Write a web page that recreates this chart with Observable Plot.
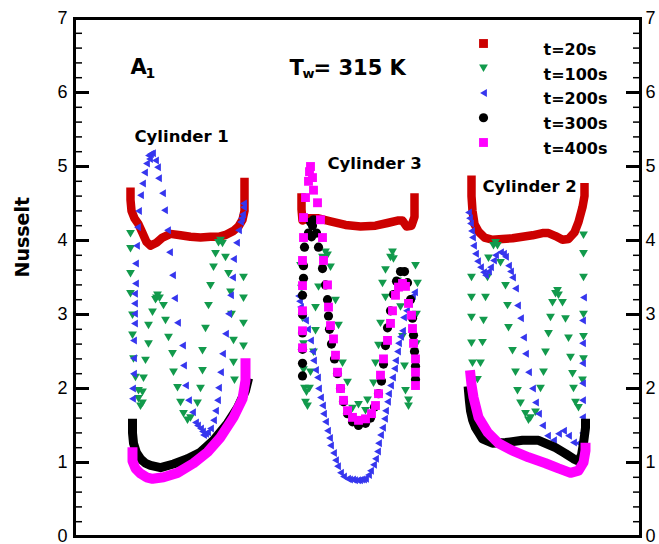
<!DOCTYPE html>
<html><head><meta charset="utf-8">
<script src="https://cdn.jsdelivr.net/npm/d3@7"></script>
<script src="https://cdn.jsdelivr.net/npm/@observablehq/plot@0.6"></script>
<style>body{margin:0;background:#fff}#chart{width:659px;height:544px}</style>
</head><body><div id="chart"></div>
<script>
// ---------- data ----------
const seriesNames = ["t=20s", "t=100s", "t=200s", "t=300s", "t=400s"];
const cylinderNames = ["Cylinder 1", "Cylinder 3", "Cylinder 2"];
const cylinderStart = [0, 171, 341];           // where each cylinder's surface curve begins along x
const yTicks = [0, 1, 2, 3, 4, 5, 6, 7];
const yMinorTicks = [0.2,0.4,0.6,0.8,1.2,1.4,1.6,1.8,2.2,2.4,2.6,2.8,3.2,3.4,3.6,3.8,4.2,4.4,4.6,4.8,5.2,5.4,5.6,5.8,6.2,6.4,6.6,6.8];

// [position along cylinder surface, Nusselt]
const t20_c1 = [[3,4.66],[3,4.55],[4,4.40],[7,4.30],[11,4.22],[15,4.10],[19,3.98],[23,3.93],[29,3.97],[35,4.04],[43,4.09],[53,4.07],[63,4.05],[73,4.04],[83,4.05],[91,4.05],[99,4.08],[106,4.13],[111,4.19],[115,4.28],[117,4.40],[117,4.60],[117,4.79]];
const t20_c3 = [[3,4.58],[3,4.42],[4,4.27],[10,4.30],[20,4.30],[32,4.26],[47,4.21],[62,4.19],[77,4.20],[90,4.24],[99,4.27],[104,4.27],[108,4.19],[113,4.20],[116,4.32],[116,4.58]];
const t20_c2 = [[3,4.82],[3,4.60],[4,4.40],[6,4.22],[10,4.12],[16,4.04],[24,4.01],[34,4.02],[44,4.03],[54,4.05],[64,4.07],[74,4.10],[80,4.10],[87,4.06],[94,4.01],[100,4.02],[106,4.11],[110,4.25],[114,4.45],[116,4.60],[116,4.72]];

const t100_c1 = [[3,4.09],[3,3.89],[3,3.55],[3,3.28],[5,2.99],[5,2.72],[6,2.40],[8,2.15],[11,1.97],[11,1.86],[13,1.76],[15,1.80],[15,1.95],[16,2.14],[18,2.38],[21,2.60],[21,2.85],[25,3.03],[28,3.20],[30,3.26],[29,3.22],[32,3.22],[36,3.12],[38,2.92],[41,2.69],[45,2.47],[46,2.22],[50,2.01],[53,1.81],[56,1.66],[60,1.57],[63,1.60],[70,1.80],[73,2.00],[75,2.24],[75,2.51],[78,2.81],[81,3.12],[83,3.39],[86,3.64],[88,3.82],[91,3.97],[93,4.00],[95,3.96],[98,3.77],[101,3.55],[103,3.30],[104,3.00],[106,2.65],[106,2.35],[107,2.11],[116,2.57],[116,2.88],[116,3.22],[116,3.50]];
const t100_c3 = [[2,3.66],[3,3.35],[4,2.95],[5,2.60],[5,2.25],[6,2.00],[7,1.81],[9,1.76],[8,1.95],[11,2.00],[12,2.22],[15,2.49],[17,2.78],[17,3.09],[20,3.37],[24,3.77],[27,3.84],[29,3.80],[32,3.64],[37,3.19],[40,2.85],[44,2.34],[49,2.08],[54,1.73],[60,1.78],[67,1.70],[69,1.84],[75,2.07],[77,2.34],[80,2.58],[82,2.88],[87,3.23],[84,3.42],[87,3.60],[92,3.77],[94,3.84],[95,3.75],[99,3.45],[102,3.10],[104,2.70],[106,2.30],[107,1.97],[110,1.84],[110,1.76],[117,3.66],[119,3.42],[118,3.00],[118,2.60]];
const t100_c2 = [[3,3.50],[3,3.23],[3,2.96],[3,2.61],[4,2.34],[9,2.12],[12,2.34],[14,2.62],[15,2.92],[17,3.23],[19,3.50],[20,3.76],[25,3.93],[27,3.97],[29,3.93],[32,3.70],[37,3.39],[39,3.12],[40,2.82],[44,2.51],[47,2.22],[49,1.97],[52,1.80],[57,1.66],[60,1.57],[62,1.60],[67,1.68],[72,2.00],[75,2.22],[77,2.49],[80,2.74],[82,2.96],[84,3.16],[87,3.28],[89,3.32],[90,3.26],[94,3.16],[97,2.94],[100,2.68],[102,2.42],[104,2.20],[105,2.00],[107,1.81],[110,1.74],[114,2.11],[115,2.40],[115,2.70],[115,3.00],[115,3.50],[115,3.82],[115,4.07]];

const t200_c1 = [[5,1.86],[5,2.00],[6,2.20],[6,2.41],[6,2.65],[7,2.88],[7,3.01],[7,3.15],[7,3.28],[8,3.42],[8,3.69],[9,3.93],[10,4.18],[11,4.40],[13,4.61],[15,4.77],[17,4.92],[19,5.04],[21,5.15],[22,5.10],[23,5.17],[25,5.18],[28,5.08],[30,4.99],[31,4.84],[35,4.64],[37,4.41],[40,4.14],[42,3.84],[45,3.53],[47,3.22],[50,2.89],[55,2.58],[56,2.31],[58,2.04],[61,1.84],[65,1.68],[68,1.54],[70,1.50],[73,1.46],[75,1.42],[76,1.37],[78,1.39],[80,1.41],[83,1.46],[86,1.57],[88,1.70],[90,1.84],[91,2.01],[93,2.22],[95,2.47],[98,2.74],[101,3.01],[103,3.26],[105,3.50],[106,3.75],[109,3.97],[111,4.14],[113,4.25],[115,4.35],[116,4.45],[116,4.50],[114,4.30]];
const t200_c3 = [[0,3.25],[1,3.18],[2,3.10],[5,2.98],[7,2.92],[9,2.80],[12,2.65],[14,2.50],[15,2.38],[17,2.25],[19,2.15],[20,2.00],[22,1.88],[24,1.77],[25,1.66],[27,1.55],[29,1.43],[31,1.33],[32,1.23],[35,1.13],[37,1.03],[39,0.95],[42,0.86],[45,0.81],[49,0.78],[51,0.77],[54,0.77],[56,0.76],[59,0.76],[61,0.76],[63,0.77],[65,0.77],[67,0.78],[70,0.83],[72,0.89],[75,0.97],[77,1.05],[79,1.15],[80,1.26],[82,1.37],[84,1.47],[86,1.59],[87,1.70],[89,1.82],[90,1.93],[92,2.04],[94,2.15],[96,2.27],[97,2.38],[99,2.50],[100,2.61],[102,2.70],[104,2.78],[105,2.96],[108,3.05],[111,3.15],[114,3.25],[116,3.30]];
const t200_c2 = [[0,4.38],[1,4.30],[2,4.23],[3,4.13],[4,4.04],[5,3.93],[7,3.82],[9,3.72],[12,3.64],[15,3.57],[17,3.53],[20,3.58],[22,3.64],[25,3.73],[27,3.80],[32,3.84],[35,3.82],[37,3.78],[40,3.66],[42,3.58],[44,3.50],[47,3.35],[49,3.12],[52,2.95],[55,2.69],[57,2.47],[60,2.22],[64,2.00],[67,1.81],[70,1.66],[74,1.50],[79,1.36],[85,1.30],[90,1.39],[95,1.43],[100,1.36],[105,1.27],[110,1.26],[114,1.40],[114,1.61],[114,1.84],[114,2.07],[114,2.34],[114,2.61],[114,2.92],[115,3.23]];

const t300_c1 = [[5,1.53],[5,1.40],[6,1.26],[9,1.13],[13,1.05],[18,0.99],[23,0.96],[33,0.93],[46,0.98],[60,1.05],[73,1.14],[86,1.30],[100,1.53],[110,1.74],[118,1.97],[120,2.08]];
const t300_c3 = [[4,2.17],[4,2.34],[4,2.53],[4,2.75],[4,3.00],[4,3.26],[5,3.49],[5,3.66],[6,3.91],[10,4.10],[12,4.25],[14,4.20],[15,4.28],[13,4.05],[18,4.10],[20,3.91],[24,3.62],[27,3.40],[29,3.20],[30,2.98],[31,2.80],[33,2.60],[36,2.40],[39,2.20],[42,2.00],[45,1.82],[49,1.66],[54,1.55],[60,1.50],[67,1.53],[72,1.60],[76,1.75],[80,1.93],[83,2.10],[85,2.33],[87,2.58],[89,2.82],[92,3.05],[95,3.27],[98,3.45],[102,3.58],[106,3.58],[109,3.43],[112,3.20],[114,2.95],[115,2.72],[116,2.50],[117,2.30],[117,2.12]];
const t300_c2 = [[0,1.97],[1,1.82],[2,1.70],[4,1.58],[7,1.47],[14,1.32],[24,1.26],[37,1.27],[54,1.30],[70,1.30],[87,1.20],[97,1.12],[105,1.05],[110,1.02],[113,1.10],[115,1.26],[117,1.47],[117,1.53]];

const t400_c1 = [[5,1.14],[5,1.02],[8,0.92],[13,0.85],[19,0.80],[25,0.78],[36,0.80],[50,0.86],[66,0.99],[80,1.14],[93,1.34],[106,1.61],[115,1.86],[118,2.11],[118,2.34]];
const t400_c3 = [[4,2.55],[4,2.78],[4,3.05],[4,3.39],[4,3.73],[5,4.04],[5,4.31],[7,4.58],[10,4.80],[11,4.93],[12,5.00],[14,4.85],[15,4.68],[19,4.51],[22,4.28],[24,4.04],[25,3.73],[29,3.40],[30,3.10],[32,2.85],[35,2.67],[37,2.45],[39,2.22],[42,2.00],[45,1.84],[49,1.70],[54,1.61],[60,1.57],[67,1.59],[73,1.66],[77,1.77],[80,1.93],[82,2.18],[85,2.40],[89,2.65],[92,2.88],[94,3.05],[97,3.26],[100,3.37],[104,3.42],[107,3.38],[110,3.15],[113,2.99],[114,2.81],[115,2.61],[117,2.40],[117,2.22],[117,2.04]];
const t400_c2 = [[2,2.18],[3,2.05],[5,1.88],[10,1.61],[19,1.41],[30,1.26],[44,1.16],[60,1.07],[77,0.99],[90,0.92],[102,0.86],[110,0.89],[115,1.00],[117,1.16],[117,1.20]];

// ---------- build table ----------
const byTime = [[t20_c1,t20_c3,t20_c2],[t100_c1,t100_c3,t100_c2],[t200_c1,t200_c3,t200_c2],[t300_c1,t300_c3,t300_c2],[t400_c1,t400_c3,t400_c2]];
const rows = [];
byTime.forEach((cyls, si) => cyls.forEach((pts, ci) => pts.forEach(([u, nu], k) =>
  rows.push({series: seriesNames[si], cyl: cylinderNames[ci], x: cylinderStart[ci] + u, nu, k}))));
const pick = (s, cyls) => rows.filter(d => d.series === s && (!cyls || cyls.includes(d.cyl)));

// ---------- styles ----------
const xDomain = [-53, 513];
const colors = ["#cc0000", "#129a4c", "#3636ee", "#000000", "#ff00ff"];
const triDown = {draw(ctx, size) { const r = Math.sqrt(size / Math.PI); ctx.moveTo(-r, -0.85*r); ctx.lineTo(r, -0.85*r); ctx.lineTo(0, 0.85*r); ctx.closePath(); }};
const triLeft = {draw(ctx, size) { const r = Math.sqrt(size / Math.PI); ctx.moveTo(-0.85*r, 0); ctx.lineTo(0.85*r, -r); ctx.lineTo(0.85*r, r); ctx.closePath(); }};
const symbols = ["square", triDown, triLeft, "circle", "square"];
const radii = [5.0, 4.4, 4.0, 4.6, 5.0];
const dense = ["Cylinder 1", "Cylinder 2"];
const sparse = ["Cylinder 3"];

const lineOpts = (color, w) => ({x: "x", y: "nu", z: "cyl", stroke: color, strokeWidth: w, strokeLinecap: "square", strokeLinejoin: "round"});
const dotOpts = (i) => ({x: "x", y: "nu", symbol: symbols[i], r: radii[i], fill: colors[i]});
const tickColor = "black";
const inwardTicks = (ticks, anchor, len, w) =>
  Plot.axisY({anchor, ticks, tickSize: -len, strokeWidth: w, stroke: tickColor, tickFormat: () => "", label: null});

const legendMarks = seriesNames.flatMap((name, i) => [
  Plot.dot([name], {frameAnchor: "top-left", dx: 409, dy: 25 + i * 24.75, symbol: symbols[i], r: radii[i], fill: colors[i]}),
  Plot.text([name], {text: d => d, frameAnchor: "top-left", dx: 469, dy: 25 + i * 24.75, textAnchor: "start", fontSize: 16, fontWeight: "bold"})
]);

const cylLabelPos = [[60, 111.7], [253, 138.7], [408, 161.7]];
const cylLabels = cylinderNames.map((name, i) =>
  Plot.text([name], {text: d => d, frameAnchor: "top-left", dx: cylLabelPos[i][0], dy: cylLabelPos[i][1], textAnchor: "start", fontSize: 16.5, fontWeight: "bold"}));

const chart = Plot.plot({
  width: 659, height: 544,
  marginLeft: 74, marginRight: 19, marginTop: 18, marginBottom: 8,
  x: {domain: xDomain, axis: null},
  y: {domain: [0, 7], axis: null},
  style: {fontFamily: "DejaVu Sans", background: "white"},
  marks: [
    Plot.line(pick("t=20s"), lineOpts(colors[0], 8.5)),
    Plot.dot(pick("t=100s"), dotOpts(1)),
    Plot.dot(pick("t=200s"), dotOpts(2)),
    Plot.line(pick("t=300s", dense), lineOpts(colors[3], 9)),
    Plot.dot(pick("t=300s", sparse), dotOpts(3)),
    Plot.line(pick("t=400s", dense), lineOpts(colors[4], 10)),
    Plot.dot(pick("t=400s", sparse), dotOpts(4)),
    inwardTicks(yTicks, "left", 15, 3),
    inwardTicks(yMinorTicks, "left", 8, 1.5),
    inwardTicks(yTicks, "right", 15, 3),
    inwardTicks(yMinorTicks, "right", 8, 1.5),
    Plot.text(yTicks, {y: d => d, text: d => String(d), frameAnchor: "left", dx: -7, textAnchor: "end", fontFamily: "Liberation Sans", fontSize: 18}),
    Plot.text(yTicks, {y: d => d, text: d => String(d), frameAnchor: "right", dx: 5, textAnchor: "start", fontFamily: "Liberation Sans", fontSize: 18}),
    Plot.text(["Nusselt"], {text: d => d, frameAnchor: "left", dx: -52, rotate: -90, fontSize: 19, fontWeight: "bold"}),
    Plot.frame({stroke: "black", strokeWidth: 3}),
    Plot.text(["A"], {text: d => d, frameAnchor: "top-left", dx: 56, dy: 40.3, textAnchor: "start", fontSize: 21, fontWeight: "bold"}),
    Plot.text(["1"], {text: d => d, frameAnchor: "top-left", dx: 71, dy: 49.5, textAnchor: "start", fontSize: 14, fontWeight: "bold"}),
    Plot.text(["T"], {text: d => d, frameAnchor: "top-left", dx: 215, dy: 41.3, textAnchor: "start", fontSize: 21, fontWeight: "bold"}),
    Plot.text(["w"], {text: d => d, frameAnchor: "top-left", dx: 228, dy: 50.5, textAnchor: "start", fontSize: 13, fontWeight: "bold"}),
    Plot.text(["= 315 K"], {text: d => d, frameAnchor: "top-left", dx: 239, dy: 41.3, textAnchor: "start", fontSize: 21, fontWeight: "bold"}),
    ...cylLabels,
    ...legendMarks
  ]
});
document.getElementById("chart").appendChild(chart);
</script>
</body></html>
